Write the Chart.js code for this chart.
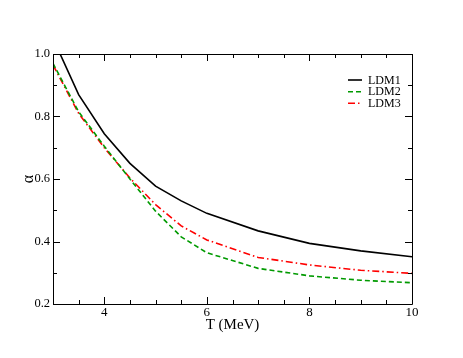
<!DOCTYPE html>
<html>
<head>
<meta charset="utf-8">
<script src="https://cdn.jsdelivr.net/npm/chart.js@4/dist/chart.umd.min.js"></script>
<style>
html,body{margin:0;padding:0;background:#fff;}
#wrap{position:relative;width:463px;height:358px;}
</style>
</head>
<body>
<div id="wrap"><canvas id="c" width="463" height="358"></canvas></div>
<script>
const temperatures = [3, 3.5, 4, 4.5, 5, 5.5, 6, 7, 8, 9, 10];
const ldm1 = [1.05, 0.87, 0.745, 0.65, 0.577, 0.53, 0.49, 0.434, 0.394, 0.37, 0.351];
const ldm2 = [0.97, 0.815, 0.705, 0.60, 0.497, 0.415, 0.364, 0.314, 0.29, 0.276, 0.268];
const ldm3 = [0.965, 0.81, 0.70, 0.603, 0.518, 0.45, 0.405, 0.349, 0.325, 0.308, 0.298];
const seriesNames = ['LDM1', 'LDM2', 'LDM3'];
const xTickValues = [4, 6, 8, 10];
const yTickValues = [0.2, 0.4, 0.6, 0.8, 1.0];
const xAxisTitle = 'T (MeV)';
const yAxisTitle = 'α';

const FONT = "'Liberation Serif', 'Times New Roman', serif";

function pts(vals){ return temperatures.map((t,i)=>({x:t, y:vals[i]})); }

const framePlugin = {
  id: 'frameTicks',
  afterDatasetsDraw(chart){
    const {ctx, chartArea:a, scales:{x, y}} = chart;
    ctx.save();
    ctx.strokeStyle = '#000';
    ctx.lineWidth = 1;
    ctx.beginPath();
    ctx.rect(Math.round(a.left)+0.5, Math.round(a.top)+0.5, Math.round(a.right-a.left), Math.round(a.bottom-a.top));
    ctx.stroke();
    ctx.beginPath();
    for (let v = 3; v <= 10.001; v += 0.5) {
      const px = Math.round(x.getPixelForValue(v)) + 0.5;
      const major = Math.abs(v - Math.round(v/2)*2) < 1e-6;
      const len = major ? 7 : 4;
      ctx.moveTo(px, a.bottom); ctx.lineTo(px, a.bottom - len);
      ctx.moveTo(px, a.top); ctx.lineTo(px, a.top + len);
    }
    for (let k = 2; k <= 10; k++) {
      const v = k/10;
      const py = Math.round(y.getPixelForValue(v)) + 0.5;
      const len = (k % 2 === 0) ? 7 : 4;
      ctx.moveTo(a.left, py); ctx.lineTo(a.left + len, py);
      ctx.moveTo(a.right, py); ctx.lineTo(a.right - len, py);
    }
    ctx.stroke();
    ctx.restore();
  },
  afterDraw(chart){
    const {ctx} = chart;
    const rows = [80, 91.7, 103.3];
    ctx.save();
    chart.data.datasets.forEach((ds, i) => {
      const yy = rows[i];
      ctx.strokeStyle = ds.borderColor;
      ctx.lineWidth = ds.borderWidth;
      ctx.setLineDash(ds.borderDash || []);
      ctx.beginPath();
      ctx.moveTo(348, yy); ctx.lineTo(362, yy);
      ctx.stroke();
      ctx.setLineDash([]);
      ctx.fillStyle = '#000';
      ctx.font = '12px ' + FONT;
      ctx.textBaseline = 'middle';
      ctx.textAlign = 'left';
      ctx.fillText(ds.label, 368, yy + 0.5);
    });
    ctx.restore();
  }
};

const chart = new Chart(document.getElementById('c'), {
  type: 'line',
  data: {
    datasets: [
      { label: seriesNames[0], data: pts(ldm1), borderColor: '#000000', borderWidth: 1.6, borderDash: [], pointRadius: 0, tension: 0, fill: false },
      { label: seriesNames[1], data: pts(ldm2), borderColor: '#009a00', borderWidth: 1.6, borderDash: [5, 3], pointRadius: 0, tension: 0, fill: false },
      { label: seriesNames[2], data: pts(ldm3), borderColor: '#ff0000', borderWidth: 1.6, borderDash: [7, 3, 1.5, 3], pointRadius: 0, tension: 0, fill: false }
    ]
  },
  options: {
    responsive: false,
    animation: false,
    events: [],
    layout: { padding: { left: 0, right: 51, top: 54, bottom: 14 } },
    plugins: { legend: { display: false }, tooltip: { enabled: false } },
    scales: {
      x: {
        type: 'linear', min: 3, max: 10,
        afterBuildTicks: s => { s.ticks = xTickValues.map(v => ({value: v})); },
        afterFit: s => { s.height = 40; },
        grid: { display: false, drawTicks: false },
        border: { display: false },
        ticks: { color: '#000', font: { family: FONT, size: 13 }, padding: 1, maxRotation: 0, autoSkip: false },
        title: { display: true, text: xAxisTitle, color: '#000', font: { family: FONT, size: 15 }, padding: { top: 0, bottom: 10 } }
      },
      y: {
        type: 'linear', min: 0.2, max: 1.0,
        afterBuildTicks: s => { s.ticks = yTickValues.map(v => ({value: v})); },
        afterFit: s => { s.width = 53; },
        grid: { display: false, drawTicks: false },
        border: { display: false },
        ticks: { color: '#000', font: { family: FONT, size: 12.5 }, padding: 3, callback: v => Number(v).toFixed(1) },
        title: { display: true, text: yAxisTitle, color: '#000', font: { family: FONT, size: 16 }, padding: { top: 19, bottom: 0 } }
      }
    }
  },
  plugins: [framePlugin]
});
</script>
</body>
</html>
